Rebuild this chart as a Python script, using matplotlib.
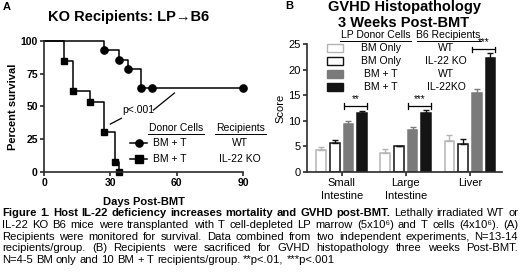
import matplotlib
matplotlib.use("Agg")
import matplotlib.pyplot as plt
from matplotlib.lines import Line2D
from matplotlib.patches import Rectangle

plt.rcParams['font.family'] = ['Liberation Sans', 'DejaVu Sans']

W, H = 520, 279

# panel A: Kaplan-Meier survival
wt_days = [0, 27, 34, 38, 44, 49, 90]
wt_surv = [100, 92.9, 85.7, 78.6, 64.3, 64.3, 64.3]
ko_days = [0, 9, 13, 21, 27, 32, 34]
ko_surv = [100, 84.6, 61.5, 53.8, 30.8, 7.7, 0]
a_xticks = [0, 30, 60, 90]
a_yticks = [0, 25, 50, 75, 100]

# panel B: histopathology scores
organs = ['Small\nIntestine', 'Large\nIntestine', 'Liver']
bm_wt = [4.2, 3.7, 6.0]
bm_wt_err = [0.6, 0.8, 1.3]
bm_ko = [5.65, 5.0, 5.45]
bm_ko_err = [0.6, 0.05, 0.95]
bmt_wt = [9.4, 8.25, 15.4]
bmt_wt_err = [0.5, 0.45, 0.8]
bmt_ko = [11.5, 11.5, 22.3]
bmt_ko_err = [0.45, 0.6, 0.9]
sig_marks = ['**', '***', '***']
sig_y = [12.9, 12.9, 24.0]
b_yticks = [0, 5, 10, 15, 20, 25]

AX = '#2b2b2b'


def fx(px):
    return px / W


def fy(py):
    return 1 - py / H


def style(ax, lw=1.2):
    for s in ['top', 'right']:
        ax.spines[s].set_visible(False)
    for s in ['left', 'bottom']:
        ax.spines[s].set_linewidth(lw)
        ax.spines[s].set_color(AX)
    ax.tick_params(direction='out', length=3, width=lw, color=AX, pad=1.5)


fig = plt.figure(figsize=(W / 100, H / 100), dpi=100)

# ---------------- panel A
axA = fig.add_axes([fx(44), fy(172), fx(243) - fx(44), fy(41) - fy(172)])
style(axA)
axA.step(wt_days, wt_surv, where='post', color='black', lw=1.1, clip_on=False)
axA.plot(wt_days[1:], wt_surv[1:], 'o', color='black', ms=5.2, clip_on=False)
axA.step(ko_days, ko_surv, where='post', color='black', lw=1.1, clip_on=False)
axA.plot(ko_days[1:], ko_surv[1:], 's', color='black', ms=5.0, clip_on=False)
axA.set_xlim(0, 90)
axA.set_ylim(0, 100)
axA.set_xticks(a_xticks)
axA.set_yticks(a_yticks)
for lab in axA.get_xticklabels() + axA.get_yticklabels():
    lab.set_fontweight('bold')
    lab.set_fontsize(7.5)
axA.set_ylabel('Percent survival', fontsize=8, fontweight='bold', labelpad=2)
axA.set_xlabel('Days Post-BMT', fontsize=8, fontweight='bold', labelpad=6)
axA.text(42.5, 47.5, 'p<.001', fontsize=7.5, ha='center', va='center')
axA.plot([30, 35], [36.6, 41], color='black', lw=0.9)
axA.plot([49.5, 59], [47.3, 60.3], color='black', lw=0.9)

fig.text(fx(3), fy(7), 'A', fontsize=8, fontweight='bold', ha='left', va='center')
fig.text(fx(129), fy(17), 'KO Recipients: LP\u2192B6', fontsize=10.5,
         fontweight='bold', ha='center', va='center')

# legend A
fs_leg = 7.5
fig.text(fx(176), fy(128), 'Donor Cells', fontsize=fs_leg, ha='center', va='center')
fig.text(fx(240.5), fy(128), 'Recipients', fontsize=fs_leg, ha='center', va='center')
fig.add_artist(Line2D([fx(148), fx(204)], [fy(134), fy(134)], color='black', lw=0.7))
fig.add_artist(Line2D([fx(215), fx(266)], [fy(134), fy(134)], color='black', lw=0.7))
for py, mk, rec in [(143, 'o', 'WT'), (159, 's', 'IL-22 KO')]:
    fig.add_artist(Line2D([fx(130), fx(147)], [fy(py), fy(py)], color='black', lw=1.1))
    fig.add_artist(Line2D([fx(138.5)], [fy(py)], marker=mk, color='black', ms=5.2))
    fig.text(fx(153), fy(py), 'BM + T', fontsize=fs_leg, ha='left', va='center')
    fig.text(fx(240), fy(py), rec, fontsize=fs_leg, ha='center', va='center')

# ---------------- panel B
axB = fig.add_axes([fx(307), fy(172), fx(502) - fx(307), fy(44) - fy(172)])
style(axB)
pitch = 0.213
bw = 0.15
series = [
    (bm_wt, bm_wt_err, 'white', '#b4b4b4'),
    (bm_ko, bm_ko_err, 'white', '#111111'),
    (bmt_wt, bmt_wt_err, '#7a7a7a', '#7a7a7a'),
    (bmt_ko, bmt_ko_err, '#141414', '#141414'),
]
xs = list(range(len(organs)))
for k, (vals, errs, fc, ec) in enumerate(series):
    pos = [x + (k - 1.5) * pitch for x in xs]
    axB.bar(pos, vals, width=bw, color=fc, edgecolor=ec, linewidth=1.1, zorder=2)
    axB.errorbar(pos, vals, yerr=[[0] * len(vals), errs], fmt='none', ecolor=ec,
                 elinewidth=1.0, capsize=2.2, capthick=1.0, zorder=3)
for i, (m, yv) in enumerate(zip(sig_marks, sig_y)):
    x0 = xs[i] + 0.5 * pitch - bw / 2
    x1 = xs[i] + 1.5 * pitch + bw / 2
    axB.plot([x0, x1], [yv, yv], color='black', lw=0.9, clip_on=False)
    axB.plot([x0, x0], [yv - 0.5, yv + 0.5], color='black', lw=0.9, clip_on=False)
    axB.plot([x1, x1], [yv - 0.5, yv + 0.5], color='black', lw=0.9, clip_on=False)
    axB.text((x0 + x1) / 2, yv + 0.45, m, fontsize=7, ha='center', va='bottom',
             clip_on=False)
axB.set_xlim(-0.54, 2.5)
axB.set_ylim(0, 25)
axB.set_yticks(b_yticks)
axB.set_xticks(xs)
axB.set_xticklabels(organs, fontsize=8, linespacing=1.3)
axB.tick_params(axis='y', labelsize=8)
axB.set_ylabel('Score', fontsize=8, labelpad=2)

fig.text(fx(285), fy(6), 'B', fontsize=8, fontweight='bold', ha='left', va='center')
fig.text(fx(404), fy(15), 'GVHD Histopathology\n3 Weeks Post-BMT', fontsize=10.5,
         fontweight='bold', ha='center', va='center', linespacing=1.2)

# legend B
fig.text(fx(375.5), fy(35), 'LP Donor Cells', fontsize=fs_leg, ha='center', va='center')
fig.text(fx(448.5), fy(35), 'B6 Recipients', fontsize=fs_leg, ha='center', va='center')
fig.add_artist(Line2D([fx(340), fx(411)], [fy(40.5), fy(40.5)], color='black', lw=0.7))
fig.add_artist(Line2D([fx(417), fx(481)], [fy(40.5), fy(40.5)], color='black', lw=0.7))
leg_rows = [('BM Only', 'WT'), ('BM Only', 'IL-22 KO'), ('BM + T', 'WT'), ('BM + T', 'IL-22KO')]
for r, ((cells, rec), (_, _, fc, ec)) in enumerate(zip(leg_rows, series)):
    py = 48 + 13 * r
    fig.add_artist(Rectangle((fx(327), fy(py + 4)), fx(343) - fx(327), fy(py - 4) - fy(py + 4),
                             facecolor=fc, edgecolor=ec, lw=1.0, transform=fig.transFigure))
    fig.text(fx(381), fy(py), cells, fontsize=fs_leg, ha='center', va='center')
    fig.text(fx(446), fy(py), rec, fontsize=fs_leg, ha='center', va='center')

# ---------------- caption (justified)
cap_lines = [
    ([('Figure 1. Host IL-22 deficiency increases mortality and GVHD post-BMT.', 'bold'),
      ('Lethally irradiated WT or', 'normal')], True),
    ([('IL-22 KO B6 mice were transplanted with T cell-depleted LP marrow (5x10\u2076) '
       'and T cells (4x10\u2076). (A)', 'normal')], True),
    ([('Recipients were monitored for survival. Data combined from two independent '
       'experiments, N=13-14', 'normal')], True),
    ([('recipients/group. (B) Recipients were sacrificed for GVHD histopathology three '
       'weeks Post-BMT.', 'normal')], True),
    ([('N=4-5 BM only and 10 BM + T recipients/group. **p<.01, ***p<.001', 'normal')], False),
]
cap_y = [213, 224.8, 236.5, 248.2, 260]
cap_fs = 8.1
renderer = fig.canvas.get_renderer()
t1 = fig.text(0, 0, 'a a', fontsize=cap_fs)
t2 = fig.text(0, 0, 'aa', fontsize=cap_fs)
space = t1.get_window_extent(renderer).width - t2.get_window_extent(renderer).width
t1.remove()
t2.remove()
for (parts, justify), py in zip(cap_lines, cap_y):
    words = []
    for txt, wt in parts:
        for w in txt.split(' '):
            words.append(fig.text(0, fy(py), w, fontsize=cap_fs, fontweight=wt,
                                  ha='left', va='center'))
    widths = [t.get_window_extent(renderer).width for t in words]
    if justify and len(words) > 1:
        gap = (516 - sum(widths)) / (len(words) - 1)
    else:
        gap = space
    x = 2.0
    for t, wd in zip(words, widths):
        t.set_x(fx(x))
        x += wd + gap

fig.savefig('out.png', dpi=100)
